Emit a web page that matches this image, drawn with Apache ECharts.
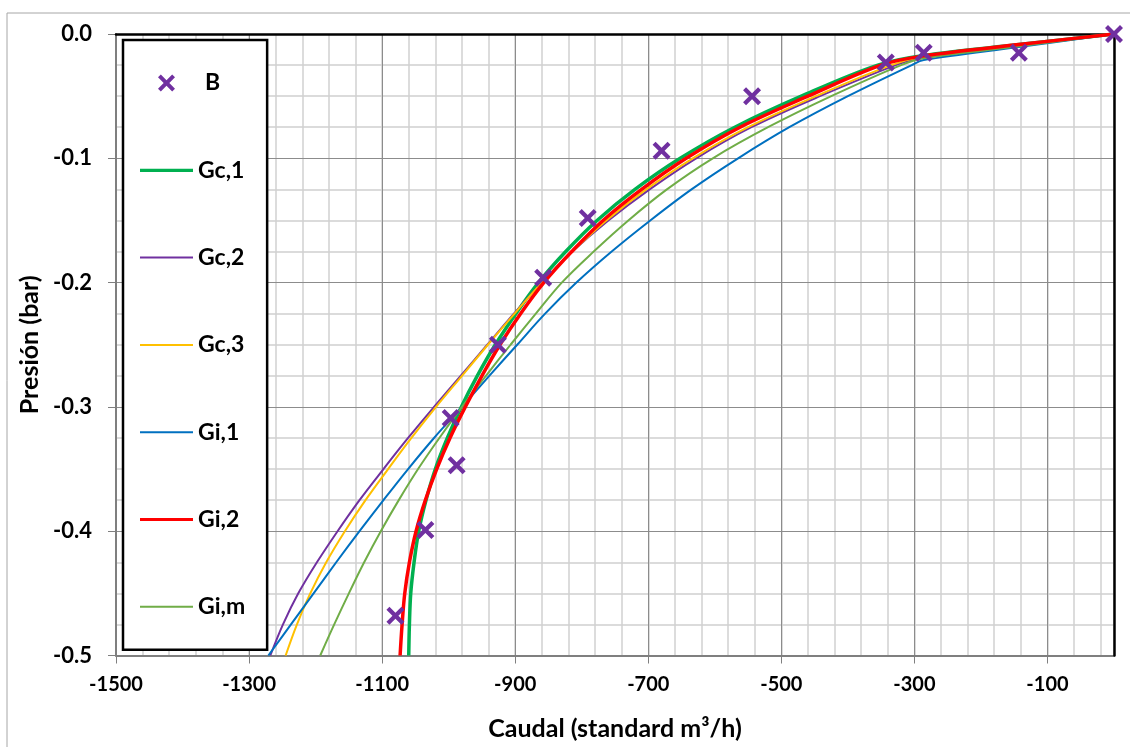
<!DOCTYPE html>
<html>
<head>
<meta charset="utf-8">
<script src="https://cdn.jsdelivr.net/npm/echarts@6/dist/echarts.min.js"></script>
<style>
html,body{margin:0;padding:0;background:#fff;}
#chart{width:1130px;height:747px;}
</style>
</head>
<body>
<div id="chart"></div>
<script>
// ---- data: Caudal (standard m3/h) vs Presión (bar) ----
const bX = [0, -143, -286, -343, -544, -680, -791, -858, -926, -997, -988, -1035, -1080];
const bY = [0, -0.015, -0.015, -0.023, -0.050, -0.094, -0.148, -0.196, -0.250, -0.309, -0.347, -0.399, -0.468];

const gc1X = [0, -143, -286, -355, -470, -570, -652, -720, -777, -824, -865, -899, -930, -957, -981, -1002, -1020, -1034, -1045, -1052, -1057, -1059, -1060];
const gc1Y = [0, -0.0085, -0.0172, -0.025, -0.05, -0.075, -0.1, -0.125, -0.15, -0.175, -0.2, -0.225, -0.25, -0.275, -0.3, -0.325, -0.35, -0.375, -0.4, -0.425, -0.45, -0.475, -0.5];

const gc2X = [0, -143, -286, -328, -442, -545, -628, -698, -760, -814, -860, -902, -942, -982, -1022, -1061, -1098, -1134, -1167, -1198, -1226, -1249, -1268];
const gc2Y = [0, -0.0095, -0.0188, -0.025, -0.05, -0.075, -0.1, -0.125, -0.15, -0.175, -0.2, -0.225, -0.25, -0.275, -0.3, -0.325, -0.35, -0.375, -0.4, -0.425, -0.45, -0.475, -0.5];

const gc3X = [0, -143, -286, -335, -448, -550, -633, -703, -763, -814, -860, -901, -941, -980, -1019, -1056, -1091, -1125, -1156, -1184, -1208, -1228, -1245];
const gc3Y = [0, -0.009, -0.0182, -0.025, -0.05, -0.075, -0.1, -0.125, -0.15, -0.175, -0.2, -0.225, -0.25, -0.275, -0.3, -0.325, -0.35, -0.375, -0.4, -0.425, -0.45, -0.475, -0.5];

const gi1X = [0, -143, -286, -304, -400, -488, -565, -635, -697, -755, -808, -855, -897, -939, -980, -1022, -1061, -1098, -1134, -1169, -1203, -1237, -1271];
const gi1Y = [0, -0.0105, -0.021, -0.025, -0.05, -0.075, -0.1, -0.125, -0.15, -0.175, -0.2, -0.225, -0.25, -0.275, -0.3, -0.325, -0.35, -0.375, -0.4, -0.425, -0.45, -0.475, -0.5];

const gi2X = [0, -143, -286, -350, -460, -562, -643, -710, -768, -815, -857, -892, -923, -950, -975, -998, -1018, -1035, -1049, -1059, -1066, -1070, -1073];
const gi2Y = [0, -0.0085, -0.0176, -0.025, -0.05, -0.075, -0.1, -0.125, -0.15, -0.175, -0.2, -0.225, -0.25, -0.275, -0.3, -0.325, -0.35, -0.375, -0.4, -0.425, -0.45, -0.475, -0.5];

const gimX = [0, -143, -286, -320, -425, -520, -603, -672, -730, -782, -830, -869, -907, -944, -980, -1014, -1046, -1075, -1102, -1127, -1150, -1172, -1193];
const gimY = [0, -0.0098, -0.0195, -0.025, -0.05, -0.075, -0.1, -0.125, -0.15, -0.175, -0.2, -0.225, -0.25, -0.275, -0.3, -0.325, -0.35, -0.375, -0.4, -0.425, -0.45, -0.475, -0.5];

const xTickLabels = ['-1500', '-1300', '-1100', '-900', '-700', '-500', '-300', '-100'];
const yTickLabels = ['0.0', '-0.1', '-0.2', '-0.3', '-0.4', '-0.5'];

const names = ['B', 'Gc,1', 'Gc,2', 'Gc,3', 'Gi,1', 'Gi,2', 'Gi,m'];
const colors = ['#7030A0', '#00B050', '#7030A0', '#FFC000', '#0070C0', '#FF0000', '#70AD47'];

// ---- build ----
const pairs = (xs, ys) => xs.map((x, i) => [x, ys[i]]);
const X_PATH = 'path://M0,3 L3,0 L9,6 L15,0 L18,3 L12,9 L18,15 L15,18 L9,12 L3,18 L0,15 L6,9 Z';
const THICK_ICON = 'path://M0,0 H53 V3.2 H0 Z';
const THIN_ICON = 'path://M0,0 H53 V2 H0 Z';
const FONT = 'Lato, "Open Sans", sans-serif';

const lineSeries = (name, color, width, xs, ys, z) => ({
  name, type: 'line', data: pairs(xs, ys), showSymbol: false, symbol: 'none',
  smooth: 0.35, lineStyle: { color, width }, itemStyle: { color }, z, animation: false
});

const chart = echarts.init(document.getElementById('chart'));
chart.setOption({
  animation: false,
  backgroundColor: '#fff',
  graphic: [{
    type: 'rect', shape: { x: 7, y: 13, width: 1140, height: 760 },
    style: { fill: 'none', stroke: '#A6A6A6', lineWidth: 1 }, z: -10, silent: true
  }],
  grid: { left: 116, right: 16, top: 34, bottom: 91.5, containLabel: false },
  legend: {
    orient: 'vertical', left: 123, top: 40,
    padding: [31, 22, 31, 17],
    itemWidth: 53, itemHeight: 17, itemGap: 63.3,
    backgroundColor: '#fff', borderColor: '#000', borderWidth: 2.5,
    textStyle: { fontFamily: FONT, fontWeight: 'bold', fontSize: 23, color: '#000', lineHeight: 24 },
    data: [
      { name: 'B', icon: X_PATH, itemStyle: { opacity: 1 }, textStyle: { padding: [0, 0, 0, 7] } },
      { name: 'Gc,1', icon: THICK_ICON },
      { name: 'Gc,2', icon: THIN_ICON },
      { name: 'Gc,3', icon: THIN_ICON },
      { name: 'Gi,1', icon: THIN_ICON },
      { name: 'Gi,2', icon: THICK_ICON },
      { name: 'Gi,m', icon: THIN_ICON }
    ]
  },
  xAxis: [
    {
      type: 'value', min: -1500, max: 0, interval: 200, position: 'bottom', z: 2,
      name: 'Caudal (standard m³/h)', nameLocation: 'middle', nameGap: 61,
      nameTextStyle: { fontFamily: FONT, fontWeight: 'bold', fontSize: 25, color: '#000' },
      axisLine: { show: true, onZero: false, lineStyle: { color: '#7F7F7F', width: 2 } },
      axisTick: { show: true, length: 8, lineStyle: { color: '#7F7F7F', width: 1 } },
      axisLabel: {
        margin: 19, fontFamily: FONT, fontWeight: 'bold', fontSize: 20, color: '#000',
        showMaxLabel: false,
        formatter: v => { const i = Math.round((v + 1500) / 200); return (v < 0 && xTickLabels[i]) ? xTickLabels[i] : ''; }
      },
      splitLine: { show: true, lineStyle: { color: '#8C8C8C', width: 1 } }
    },
    {
      type: 'value', min: -1500, max: 0, interval: 40, position: 'bottom', z: 1,
      axisLine: { show: false }, axisTick: { show: false }, axisLabel: { show: false },
      splitLine: { show: true, lineStyle: { color: '#D0D0D0', width: 1.5 } }
    },
    {
      type: 'value', min: -1500, max: 0, position: 'top', z: 3,
      axisLine: { show: true, onZero: false, lineStyle: { color: '#000', width: 2.5 } },
      axisTick: { show: false }, axisLabel: { show: false }, splitLine: { show: false }
    }
  ],
  yAxis: [
    {
      type: 'value', min: -0.5, max: 0, interval: 0.1, position: 'left', z: 2,
      name: 'Presión (bar)', nameLocation: 'middle', nameGap: 72, nameRotate: 90,
      nameTextStyle: { fontFamily: FONT, fontWeight: 'bold', fontSize: 25, color: '#000' },
      axisLine: { show: true, onZero: false, lineStyle: { color: '#7F7F7F', width: 2 } },
      axisTick: { show: true, length: 8, lineStyle: { color: '#7F7F7F', width: 1 } },
      axisLabel: {
        margin: 24, fontFamily: FONT, fontWeight: 'bold', fontSize: 22, color: '#000',
        formatter: v => { const i = Math.round(-v / 0.1); return yTickLabels[i] || ''; }
      },
      splitLine: { show: true, lineStyle: { color: '#8C8C8C', width: 1 } },
      minorTick: { show: false, splitNumber: 4 },
      minorSplitLine: { show: true, lineStyle: { color: '#D0D0D0', width: 1.5 } }
    },
    {
      type: 'value', min: -0.5, max: 0, position: 'right', z: 3,
      axisLine: { show: true, onZero: false, lineStyle: { color: '#000', width: 2.5 } },
      axisTick: { show: false }, axisLabel: { show: false }, splitLine: { show: false }
    }
  ],
  series: [
    {
      name: 'B', type: 'scatter', data: pairs(bX, bY), symbol: X_PATH, symbolSize: 18,
      itemStyle: { color: colors[0], opacity: 1 }, z: 10, animation: false
    },
    lineSeries('Gc,1', colors[1], 3.5, gc1X, gc1Y, 3),
    lineSeries('Gc,2', colors[2], 2, gc2X, gc2Y, 3),
    lineSeries('Gc,3', colors[3], 2, gc3X, gc3Y, 3),
    lineSeries('Gi,1', colors[4], 2, gi1X, gi1Y, 3),
    lineSeries('Gi,2', colors[5], 3.5, gi2X, gi2Y, 4),
    lineSeries('Gi,m', colors[6], 2, gimX, gimY, 3)
  ]
});
</script>
</body>
</html>
